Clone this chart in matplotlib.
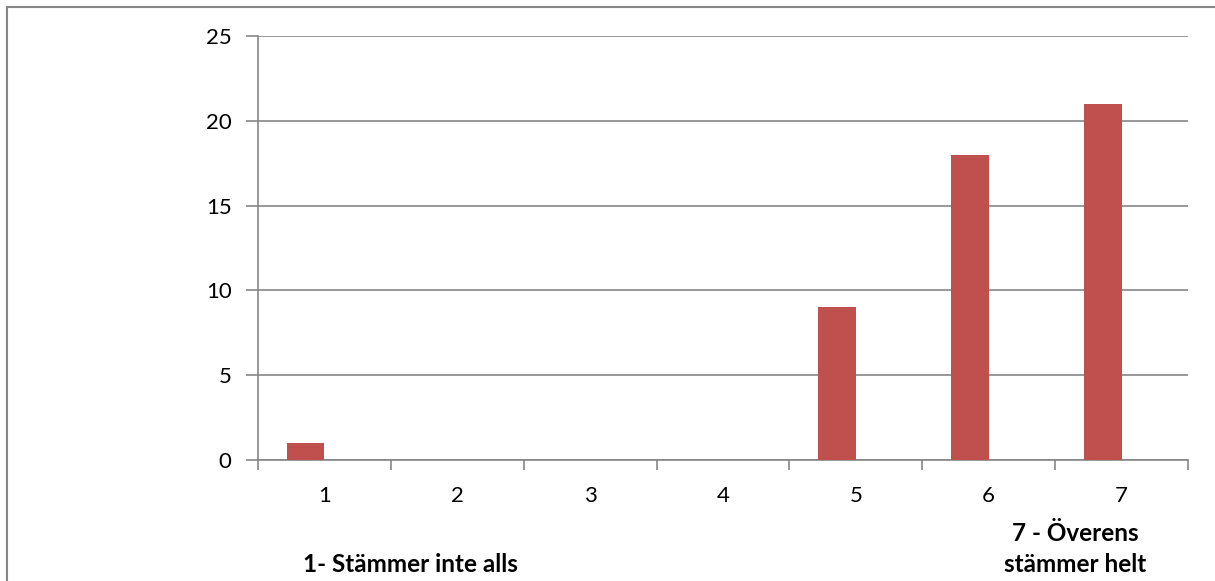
import matplotlib
matplotlib.use("Agg")
import matplotlib.pyplot as plt
from matplotlib.patches import Rectangle

categories = ["1", "2", "3", "4", "5", "6", "7"]
values = [1, 0, 0, 0, 9, 18, 21]
yticks = [0, 5, 10, 15, 20, 25]
label_low = "1- Stämmer inte alls"
label_high = "7 - Överens\nstämmer helt"

plt.rcParams['font.family'] = ['Lato', 'DejaVu Sans']

W, H = 1215, 581
fig = plt.figure(figsize=(W/100, H/100), dpi=100)
fig.patches.append(Rectangle((7/W, -0.1), 1.2, (H-7)/H + 0.1, transform=fig.transFigure,
                             fill=False, edgecolor='#868686', linewidth=1.5))

left, right, top, bottom = 258, 1188, 36, 460
ax = fig.add_axes([left/W, 1-bottom/H, (right-left)/W, (bottom-top)/H])
x = list(range(len(categories)))
ax.bar(x, values, width=-0.285, align='edge', color='#C0504D', zorder=3)
ax.set_xlim(-0.5, len(categories)-0.5)
ax.set_ylim(0, 25)
ax.set_yticks(yticks)
ax.set_yticklabels([str(v) for v in yticks], fontsize=16)
ax.set_xticks(x)
ax.set_xticklabels(categories, fontsize=16)
ax.set_xticks([i - 0.5 for i in range(len(categories)+1)], minor=True)
ax.tick_params(axis='x', which='major', length=0, pad=19)
ax.tick_params(axis='x', which='minor', length=7, color='#868686', width=1.2)
ax.tick_params(axis='y', length=9, color='#868686', width=1.2, pad=10)
ax.grid(axis='y', color='#868686', linewidth=1.2, zorder=0)
for s in ['top', 'right']:
    ax.spines[s].set_visible(False)
for s in ['left', 'bottom']:
    ax.spines[s].set_color('#868686')
    ax.spines[s].set_linewidth(1.2)

fig.text(410/W, 1-565/H, label_low, ha='center', va='center', fontsize=17.5, fontweight='bold')
fig.text(1075/W, 1-549/H, label_high, ha='center', va='center', fontsize=17.5,
         fontweight='bold', linespacing=1.4)

fig.savefig("out.png", dpi=100)
